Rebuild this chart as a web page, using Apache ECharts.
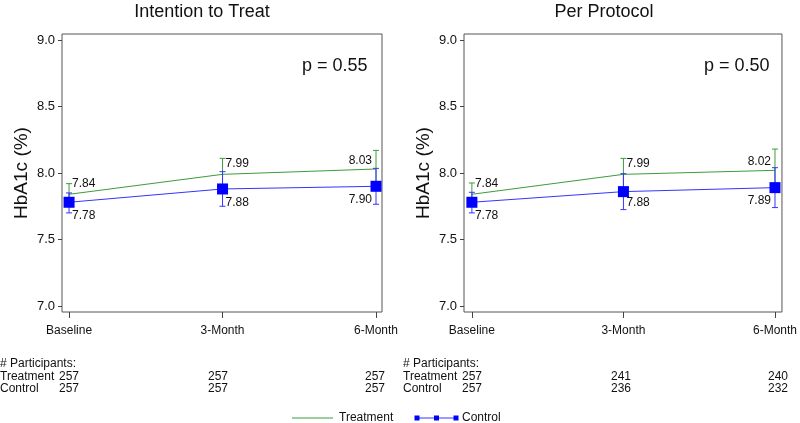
<!DOCTYPE html>
<html>
<head>
<meta charset="utf-8">
<script src="https://cdn.jsdelivr.net/npm/echarts@6/dist/echarts.min.js"></script>
<style>
  html, body { margin: 0; padding: 0; background: #fff; }
  #chart { width: 800px; height: 423px; }
</style>
</head>
<body>
<div id="chart"></div>
<script>
// data
const xCats = ["Baseline", "3-Month", "6-Month"];
const yTicks = [7.0, 7.5, 8.0, 8.5, 9.0];
const panelTitles = ["Intention to Treat", "Per Protocol"];
const pValues = ["p = 0.55", "p = 0.50"];

// Intention to treat
const ittTreat = [7.84, 7.99, 8.03];
const ittTreatLow = [7.76, 7.87, 7.89];
const ittTreatHigh = [7.92, 8.11, 8.17];
const ittTreatLabels = ["7.84", "7.99", "8.03"];
const ittCtrl = [7.78, 7.88, 7.90];
const ittCtrlLow = [7.70, 7.75, 7.765];
const ittCtrlHigh = [7.85, 8.01, 8.035];
const ittCtrlLabels = ["7.78", "7.88", "7.90"];
const ittNTreat = [257, 257, 257];
const ittNCtrl = [257, 257, 257];

// Per protocol
const ppTreat = [7.84, 7.99, 8.02];
const ppTreatLow = [7.755, 7.87, 7.86];
const ppTreatHigh = [7.925, 8.11, 8.18];
const ppTreatLabels = ["7.84", "7.99", "8.02"];
const ppCtrl = [7.78, 7.86, 7.89];
const ppCtrlLow = [7.70, 7.725, 7.74];
const ppCtrlHigh = [7.855, 7.995, 8.04];
const ppCtrlLabels = ["7.78", "7.88", "7.89"];
const ppNTreat = [257, 241, 240];
const ppNCtrl = [257, 236, 232];

const FONT = "'Liberation Sans', Arial, sans-serif";
const GREEN = "#3c9c3c";
const BLUE = "#0000ff";
const BLUE_LINE = "#3535ff";
const AXIS_COL = "#444";

const chart = echarts.init(document.getElementById("chart"), null, { renderer: "canvas" });

// panel layout: grid box + x range
const panels = [
  { left: 62, width: 320, xmin: -0.046, xmax: 2.039, cx: 202, tickX: [69, 222, 376], pX: 302, tableX: 0 },
  { left: 464, width: 322, xmin: -0.052, xmax: 2.046, cx: 604, tickX: [472, 625, 779], pX: 704, tableX: 403 }
];

const panelData = [
  { treat: ittTreat, tLow: ittTreatLow, tHigh: ittTreatHigh, tLab: ittTreatLabels,
    ctrl: ittCtrl, cLow: ittCtrlLow, cHigh: ittCtrlHigh, cLab: ittCtrlLabels,
    nT: ittNTreat, nC: ittNCtrl },
  { treat: ppTreat, tLow: ppTreatLow, tHigh: ppTreatHigh, tLab: ppTreatLabels,
    ctrl: ppCtrl, cLow: ppCtrlLow, cHigh: ppCtrlHigh, cLab: ppCtrlLabels,
    nT: ppNTreat, nC: ppNCtrl }
];

// 오차막대
function errorBarRender(color) {
  return function (params, api) {
    const lo = api.coord([api.value(0), api.value(1)]);
    const hi = api.coord([api.value(0), api.value(2)]);
    const cap = 3;
    const style = { stroke: color, lineWidth: 1 };
    return {
      type: "group",
      children: [
        { type: "line", shape: { x1: lo[0], y1: lo[1], x2: hi[0], y2: hi[1] }, style },
        { type: "line", shape: { x1: lo[0] - cap, y1: lo[1], x2: lo[0] + cap, y2: lo[1] }, style },
        { type: "line", shape: { x1: hi[0] - cap, y1: hi[1], x2: hi[0] + cap, y2: hi[1] }, style }
      ]
    };
  };
}

// 값 라벨
function labelRender(labels, above) {
  return function (params, api) {
    const i = params.dataIndex;
    const last = i === labels.length - 1;
    const p = api.coord([api.value(0), parseFloat(labels[i])]);
    return {
      type: "text",
      x: p[0] + (last ? -4 : 3),
      y: p[1] + (above ? (last ? -8.5 : -11) : 13.5),
      style: {
        text: labels[i],
        fill: "#111",
        font: "12px " + FONT,
        align: last ? "right" : "left",
        verticalAlign: "middle"
      }
    };
  };
}

const grids = [], xAxes = [], yAxes = [], series = [], graphics = [];

panels.forEach((pn, k) => {
  const d = panelData[k];
  grids.push({
    left: pn.left, top: 34, width: pn.width, height: 278,
    show: true, borderColor: "#555", borderWidth: 1, backgroundColor: "transparent"
  });
  xAxes.push({
    type: "value", gridIndex: k, min: pn.xmin, max: pn.xmax, position: "bottom",
    axisLine: { show: false, onZero: false }, splitLine: { show: false },
    axisTick: { show: true, length: 6, customValues: [0, 1, 2], lineStyle: { color: AXIS_COL } },
    axisLabel: {
      customValues: [0, 1, 2], margin: 13, color: "#111",
      fontFamily: FONT, fontSize: 12,
      formatter: (v) => xCats[Math.round(v)]
    }
  });
  yAxes.push({
    type: "value", gridIndex: k, min: 6.955, max: 9.045, position: "left",
    axisLine: { show: false, onZero: false }, splitLine: { show: false },
    axisTick: { show: true, length: 4, customValues: yTicks, lineStyle: { color: AXIS_COL } },
    axisLabel: {
      customValues: yTicks, margin: 7, color: "#111",
      fontFamily: FONT, fontSize: 13,
      formatter: (v) => v.toFixed(1)
    }
  });

  const xs = [0, 1, 2];
  series.push({
    type: "line", xAxisIndex: k, yAxisIndex: k, silent: true,
    data: xs.map((x, i) => [x, d.treat[i]]),
    symbol: "none", lineStyle: { color: GREEN, width: 1 }, z: 2
  });
  series.push({
    type: "custom", xAxisIndex: k, yAxisIndex: k, silent: true, z: 3,
    data: xs.map((x, i) => [x, d.tLow[i], d.tHigh[i]]),
    renderItem: errorBarRender(GREEN)
  });
  series.push({
    type: "custom", xAxisIndex: k, yAxisIndex: k, silent: true, z: 4,
    data: xs.map((x, i) => [x, d.cLow[i], d.cHigh[i]]),
    renderItem: errorBarRender(BLUE_LINE)
  });
  series.push({
    type: "line", xAxisIndex: k, yAxisIndex: k, silent: true, z: 5,
    data: xs.map((x, i) => [x, d.ctrl[i]]),
    symbol: "rect", symbolSize: 11,
    itemStyle: { color: BLUE },
    lineStyle: { color: BLUE_LINE, width: 1 }
  });
  series.push({
    type: "custom", xAxisIndex: k, yAxisIndex: k, silent: true, z: 6,
    data: xs.map((x, i) => [x, d.treat[i]]),
    renderItem: labelRender(d.tLab, true)
  });
  series.push({
    type: "custom", xAxisIndex: k, yAxisIndex: k, silent: true, z: 6,
    data: xs.map((x, i) => [x, d.ctrl[i]]),
    renderItem: labelRender(d.cLab, false)
  });

  // 제목, 축 이름, p값
  graphics.push({
    type: "text", x: pn.cx, y: 12,
    style: { text: panelTitles[k], font: "18px " + FONT, fill: "#111", align: "center", verticalAlign: "middle" }
  });
  graphics.push({
    type: "text", x: pn.left - 40, y: 173, rotation: Math.PI / 2,
    style: { text: "HbA1c (%)", font: "19px " + FONT, fill: "#111", align: "center", verticalAlign: "middle" }
  });
  graphics.push({
    type: "text", x: pn.pX, y: 66,
    style: { text: pValues[k], font: "18px " + FONT, fill: "#111", align: "left", verticalAlign: "middle" }
  });

  // 참가자 수 표
  const x0 = pn.tableX;
  const rowY = [364, 377, 389];
  const tStyle = (text, x, y, align) => ({
    type: "text", x, y,
    style: { text, font: "12px " + FONT, fill: "#111", align, verticalAlign: "middle" }
  });
  graphics.push(tStyle("# Participants:", x0, rowY[0], "left"));
  graphics.push(tStyle("Treatment", x0, rowY[1], "left"));
  graphics.push(tStyle("Control", x0, rowY[2], "left"));
  [d.nT, d.nC].forEach((arr, r) => {
    graphics.push(tStyle(String(arr[0]), pn.tickX[0] - 10, rowY[r + 1], "left"));
    graphics.push(tStyle(String(arr[1]), pn.tickX[1] - 4, rowY[r + 1], "center"));
    graphics.push(tStyle(String(arr[2]), pn.tickX[2] + 9, rowY[r + 1], "right"));
  });
});

// 범례
graphics.push({ type: "line", shape: { x1: 292, y1: 418, x2: 333, y2: 418 }, style: { stroke: GREEN, lineWidth: 1 } });
graphics.push({ type: "text", x: 339, y: 418, style: { text: "Treatment", font: "12px " + FONT, fill: "#111", align: "left", verticalAlign: "middle" } });
graphics.push({ type: "line", shape: { x1: 417, y1: 418, x2: 456, y2: 418 }, style: { stroke: BLUE_LINE, lineWidth: 1 } });
[417, 436.5, 456].forEach((sx) => {
  graphics.push({ type: "rect", shape: { x: sx - 2.5, y: 415.5, width: 5, height: 5 }, style: { fill: BLUE } });
});
graphics.push({ type: "text", x: 462, y: 418, style: { text: "Control", font: "12px " + FONT, fill: "#111", align: "left", verticalAlign: "middle" } });

chart.setOption({
  animation: false,
  backgroundColor: "#fff",
  grid: grids,
  xAxis: xAxes,
  yAxis: yAxes,
  series: series,
  graphic: graphics
});
</script>
</body>
</html>
